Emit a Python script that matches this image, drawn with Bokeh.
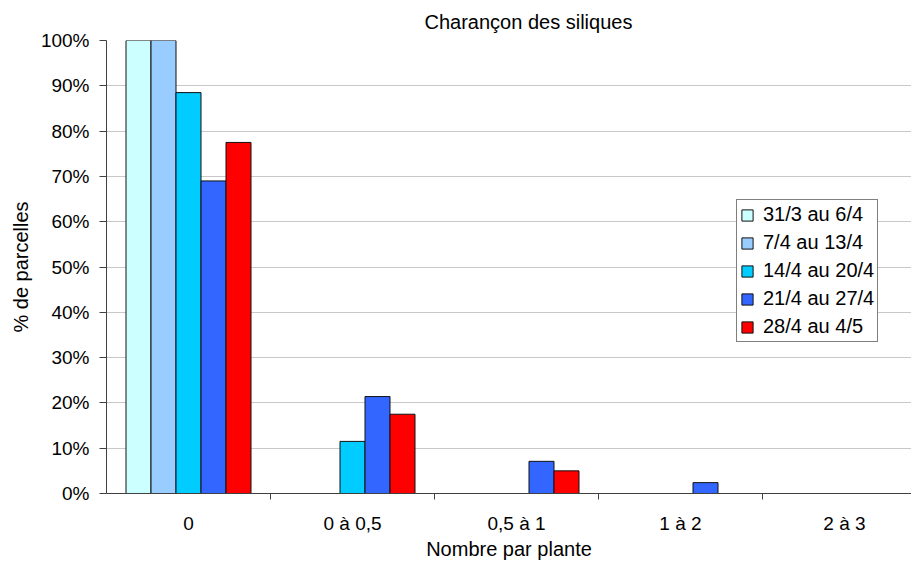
from bokeh.plotting import figure
from bokeh.models import (ColumnDataSource, Range1d, FixedTicker, PrintfTickFormatter,
                          Legend, LegendItem)
from bokeh.embed import file_html
from bokeh.resources import INLINE

# ---- data ----
categories = ["0", "0 à 0,5", "0,5 à 1", "1 à 2", "2 à 3"]
series_names = ["31/3 au 6/4", "7/4 au 13/4", "14/4 au 20/4", "21/4 au 27/4", "28/4 au 4/5"]
s_31_3 = [100.0, 0.0, 0.0, 0.0, 0.0]
s_7_4 = [100.0, 0.0, 0.0, 0.0, 0.0]
s_14_4 = [88.5, 11.5, 0.0, 0.0, 0.0]
s_21_4 = [69.0, 21.4, 7.1, 2.4, 0.0]
s_28_4 = [77.5, 17.5, 5.0, 0.0, 0.0]
series_values = [s_31_3, s_7_4, s_14_4, s_21_4, s_28_4]
colors = ["#CCFFFF", "#99CCFF", "#00CCFF", "#3366FF", "#FF0000"]
y_ticks = [0, 10, 20, 30, 40, 50, 60, 70, 80, 90, 100]

FONT = "Liberation Sans"
n_cat = len(categories)
bar_w = 25 / 164.0
FW, FH = 911, 562
LEFT = 106

p = figure(width=FW, height=FH, output_backend="svg", toolbar_location=None,
           x_range=Range1d(0, (FW - LEFT) / 164.0), y_range=Range1d(0, 100),
           min_border_left=LEFT, min_border_right=0, min_border_top=40, min_border_bottom=69,
           background_fill_color="white", border_fill_color="white")
p.outline_line_color = None

p.title.text = "Charançon des siliques"
p.title.align = "left"
p.title.offset = 318
p.title.text_font = FONT
p.title.text_font_size = "20px"
p.title.text_font_style = "normal"
p.title.text_color = "black"
p.title.standoff = 16

legend_items = []
for j, (name, vals, col) in enumerate(zip(series_names, series_values, colors)):
    xs = [i + 0.5 + (j - 2) * bar_w for i in range(n_cat)]
    src = ColumnDataSource(dict(x=xs, top=vals))
    r = p.vbar(x="x", top="top", bottom=0, width=bar_w, source=src,
               fill_color=col, line_color="#111111", line_width=1)
    legend_items.append(LegendItem(label=name, renderers=[r]))

# y axis
p.yaxis.ticker = FixedTicker(ticks=y_ticks)
p.yaxis.formatter = PrintfTickFormatter(format="%d%%")
p.yaxis.major_tick_out = 7
p.yaxis.major_tick_in = 0
p.yaxis.minor_tick_out = 0
p.yaxis.minor_tick_in = 0
p.yaxis.major_label_standoff = 10
p.yaxis.axis_label = "% de parcelles"
p.yaxis.axis_label_standoff = 6
p.yaxis.axis_line_color = "#404040"
p.yaxis.major_tick_line_color = "#404040"

# x axis: labels at centres, tick marks between categories
p.xaxis.ticker = FixedTicker(ticks=[i + 0.5 for i in range(n_cat)],
                             minor_ticks=[float(i) for i in range(1, n_cat)])
p.xaxis.major_label_overrides = {i + 0.5: c for i, c in enumerate(categories)}
p.xaxis.major_tick_out = 0
p.xaxis.major_tick_in = 0
p.xaxis.minor_tick_out = 6
p.xaxis.minor_tick_in = 0
p.xaxis.minor_tick_line_color = "#404040"
p.xaxis.major_label_standoff = 13
p.xaxis.axis_label = "Nombre par plante"
p.xaxis.axis_label_standoff = 1
p.xaxis.axis_line_color = "#404040"

for ax in (p.xaxis[0], p.yaxis[0]):
    ax.major_label_text_font = FONT
    ax.major_label_text_font_size = "19px"
    ax.major_label_text_color = "black"
    ax.axis_label_text_font = FONT
    ax.axis_label_text_font_size = "20px"
    ax.axis_label_text_font_style = "normal"
    ax.axis_label_text_color = "black"

p.xgrid.grid_line_color = None
p.ygrid.ticker = FixedTicker(ticks=y_ticks)
p.ygrid.grid_line_color = "#C8C8C8"
p.ygrid.grid_line_width = 1

legend = Legend(items=legend_items, location=(630, 151))
legend.margin = 0
legend.padding = 3
legend.spacing = 5
legend.label_height = 23
legend.glyph_height = 14
legend.glyph_width = 14
legend.label_standoff = 9
legend.label_text_font = FONT
legend.label_text_font_size = "20px"
legend.label_text_color = "black"
legend.border_line_color = "black"
legend.border_line_width = 1
legend.background_fill_color = "white"
legend.background_fill_alpha = 1.0
p.add_layout(legend)

open("out.html", "w").write(file_html(p, INLINE))
